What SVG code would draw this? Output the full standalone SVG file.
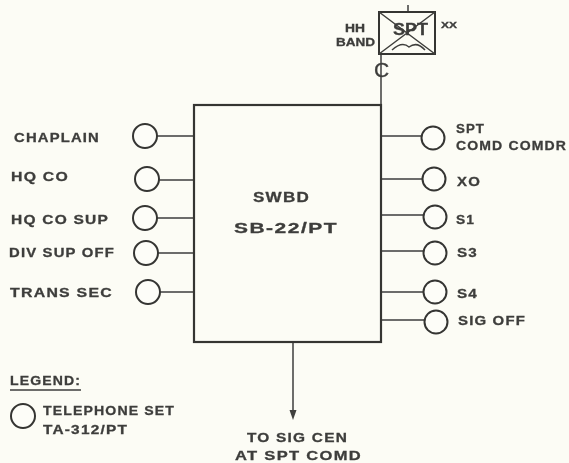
<svg xmlns="http://www.w3.org/2000/svg" width="569" height="463" viewBox="0 0 569 463">
<defs><filter id="scan" x="0" y="0" width="100%" height="100%"><feGaussianBlur stdDeviation="0.55"/></filter></defs>
<style>
.l{fill:none;stroke:#3f3f3d;stroke-width:1.5}
.c{fill:#fdfdf8;stroke:#353533;stroke-width:2}
text{font-family:"Liberation Sans",Arial,sans-serif;font-weight:bold;font-size:12.500px;fill:#3d3d3b;stroke:#3d3d3b;stroke-width:.3;letter-spacing:1px}
.m{font-size:14px}
.t{font-size:16px;letter-spacing:0}
.s{font-size:10.500px;letter-spacing:0}
.x{font-size:9px;letter-spacing:0}
.g{font-size:21px;font-weight:normal;letter-spacing:0}
</style>
<rect width="569" height="463" fill="#fcfcf5"/>
<g filter="url(#scan)">
<g id="connectors" class="l">
<path d="M381 105V54"/>
<path d="M408 5V12"/>
<path d="M293 342V412"/>
<path d="M157 136H194M159 180H194M157 218H194M158 253H194M160 292H194"/>
<path d="M381 136H422M381 179H423M381 215H424M381 251H424M381 292H424M381 320H425"/>
<path d="M289.500 410h7l-3.500 10z" fill="#3f3f3d" stroke="none"/>
</g>
<g id="swbd"><rect x="194" y="105" width="187" height="237" fill="none" stroke="#353533" stroke-width="2.200"/>
<text class="m" x="253" y="202" textLength="57" lengthAdjust="spacingAndGlyphs">SWBD</text><text class="m" x="234" y="233" textLength="104" lengthAdjust="spacingAndGlyphs">SB-22/PT</text></g>
<g id="spt"><rect x="379" y="12" width="56" height="42" fill="none" stroke="#353533" stroke-width="2"/>
<path class="l" d="M379 12L435 54M435 12L379 54M392 50q10-9 17-3q8-6 16 3"/>
<text class="t" x="393" y="35" textLength="35" lengthAdjust="spacingAndGlyphs">SPT</text>
<text class="x" x="441" y="28" textLength="16" lengthAdjust="spacingAndGlyphs">XX</text><text class="s" x="345" y="32" textLength="20" lengthAdjust="spacingAndGlyphs">HH</text><text class="s" x="336" y="46" textLength="39" lengthAdjust="spacingAndGlyphs">BAND</text>
<text class="g" x="374" y="77">C</text></g>
<g id="chaplain"><circle class="c" cx="145" cy="136" r="12"/><text x="14" y="142" textLength="86" lengthAdjust="spacingAndGlyphs">CHAPLAIN</text></g>
<g id="hq-co"><circle class="c" cx="147" cy="179" r="12"/><text x="11" y="181" textLength="58" lengthAdjust="spacingAndGlyphs">HQ CO</text></g>
<g id="hq-co-sup"><circle class="c" cx="145" cy="218" r="12"/><text x="11" y="224" textLength="98" lengthAdjust="spacingAndGlyphs">HQ CO SUP</text></g>
<g id="div-sup-off"><circle class="c" cx="146" cy="253" r="12"/><text x="9" y="257" textLength="106" lengthAdjust="spacingAndGlyphs">DIV SUP OFF</text></g>
<g id="trans-sec"><circle class="c" cx="148" cy="292" r="12"/><text x="10" y="297" textLength="103" lengthAdjust="spacingAndGlyphs">TRANS SEC</text></g>
<g id="spt-comd-comdr"><circle class="c" cx="433" cy="138" r="11.500"/><text x="456" y="133" textLength="29" lengthAdjust="spacingAndGlyphs">SPT</text><text x="456" y="150" textLength="111" lengthAdjust="spacingAndGlyphs">COMD COMDR</text></g>
<g id="xo"><circle class="c" cx="434" cy="179" r="11.500"/><text x="457" y="186" textLength="24" lengthAdjust="spacingAndGlyphs">XO</text></g>
<g id="s1"><circle class="c" cx="435" cy="217" r="11.500"/><text x="456" y="224" textLength="19" lengthAdjust="spacingAndGlyphs">S1</text></g>
<g id="s3"><circle class="c" cx="435" cy="253" r="11.500"/><text x="457" y="257" textLength="21" lengthAdjust="spacingAndGlyphs">S3</text></g>
<g id="s4"><circle class="c" cx="435" cy="292" r="11.500"/><text x="457" y="298" textLength="21" lengthAdjust="spacingAndGlyphs">S4</text></g>
<g id="sig-off"><circle class="c" cx="436" cy="322" r="11.500"/><text x="458" y="325" textLength="68" lengthAdjust="spacingAndGlyphs">SIG OFF</text></g>
<g id="legend"><text x="10" y="385" textLength="71" lengthAdjust="spacingAndGlyphs">LEGEND:</text><path class="l" d="M10 390H81"/>
<circle class="c" cx="23" cy="416" r="12"/><text x="43" y="415" textLength="132" lengthAdjust="spacingAndGlyphs">TELEPHONE SET</text><text x="43" y="434" textLength="85" lengthAdjust="spacingAndGlyphs">TA-312/PT</text></g>
<g id="to-sig-cen"><text x="247" y="442" textLength="101" lengthAdjust="spacingAndGlyphs">TO SIG CEN</text><text x="235" y="460" textLength="127" lengthAdjust="spacingAndGlyphs">AT SPT COMD</text></g>
</g>
</svg>
